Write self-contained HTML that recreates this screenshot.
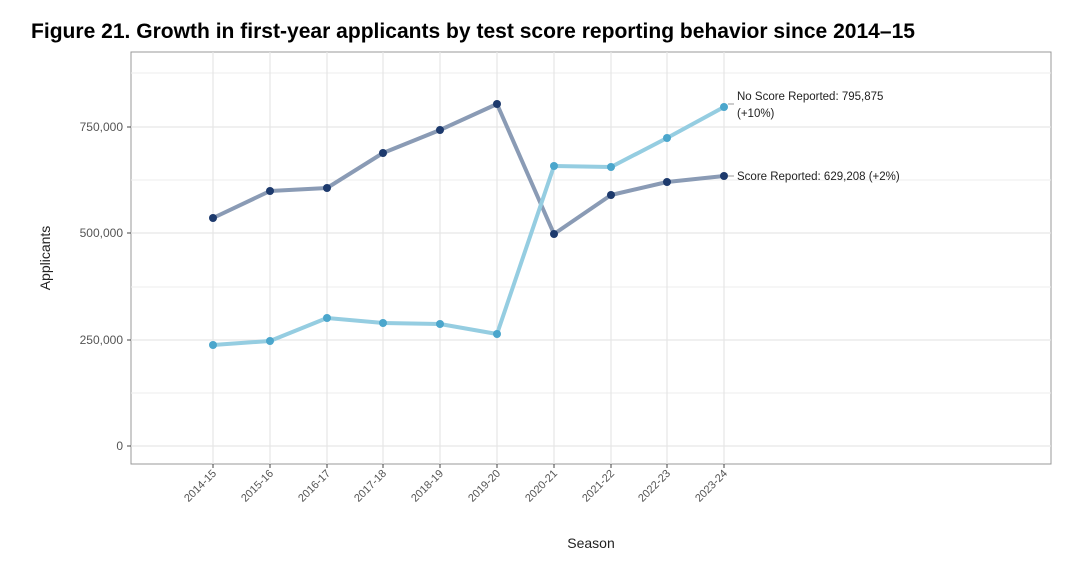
<!DOCTYPE html>
<html><head><meta charset="utf-8"><style>
body{margin:0;background:#fff;width:1080px;height:564px;overflow:hidden}
svg{display:block}
</style></head><body>
<svg width="1080" height="564" xmlns="http://www.w3.org/2000/svg" font-family="Liberation Sans, sans-serif">
<text x="31" y="38" font-family="Liberation Sans, sans-serif" font-weight="bold" font-size="21" textLength="884" lengthAdjust="spacingAndGlyphs" fill="#000">Figure 21. Growth in first-year applicants by test score reporting behavior since 2014–15</text>
<rect x="131" y="52" width="920" height="412" fill="#fff" stroke="#999" stroke-width="1"/>
<g stroke="#eeeeee" stroke-width="1">
<line x1="131" x2="1051" y1="73" y2="73"/><line x1="131" x2="1051" y1="180" y2="180"/><line x1="131" x2="1051" y1="287" y2="287"/><line x1="131" x2="1051" y1="393" y2="393"/>
</g>
<g stroke="#e6e6e6" stroke-width="1.2">
<line x1="131" x2="1051" y1="127" y2="127"/><line x1="131" x2="1051" y1="233" y2="233"/><line x1="131" x2="1051" y1="340" y2="340"/><line x1="131" x2="1051" y1="446" y2="446"/>
<line y1="52" y2="464" x1="213" x2="213"/><line y1="52" y2="464" x1="270" x2="270"/><line y1="52" y2="464" x1="327" x2="327"/><line y1="52" y2="464" x1="383" x2="383"/><line y1="52" y2="464" x1="440" x2="440"/><line y1="52" y2="464" x1="497" x2="497"/><line y1="52" y2="464" x1="554" x2="554"/><line y1="52" y2="464" x1="611" x2="611"/><line y1="52" y2="464" x1="667" x2="667"/><line y1="52" y2="464" x1="724" x2="724"/>
</g>
<g stroke="#444" stroke-width="1">
<line x1="127" x2="131" y1="127" y2="127"/><line x1="127" x2="131" y1="233" y2="233"/><line x1="127" x2="131" y1="340" y2="340"/><line x1="127" x2="131" y1="446" y2="446"/>
<line y1="464" y2="468" x1="213" x2="213"/><line y1="464" y2="468" x1="270" x2="270"/><line y1="464" y2="468" x1="327" x2="327"/><line y1="464" y2="468" x1="383" x2="383"/><line y1="464" y2="468" x1="440" x2="440"/><line y1="464" y2="468" x1="497" x2="497"/><line y1="464" y2="468" x1="554" x2="554"/><line y1="464" y2="468" x1="611" x2="611"/><line y1="464" y2="468" x1="667" x2="667"/><line y1="464" y2="468" x1="724" x2="724"/>
</g>
<g font-size="12" fill="#555" text-anchor="end">
<text x="123" y="131">750,000</text><text x="123" y="237">500,000</text><text x="123" y="344">250,000</text><text x="123" y="450">0</text>
</g>
<g font-size="11" fill="#555" text-anchor="end">
<text transform="translate(217,474) rotate(-45)">2014-15</text>
<text transform="translate(274,474) rotate(-45)">2015-16</text>
<text transform="translate(331,474) rotate(-45)">2016-17</text>
<text transform="translate(387,474) rotate(-45)">2017-18</text>
<text transform="translate(444,474) rotate(-45)">2018-19</text>
<text transform="translate(501,474) rotate(-45)">2019-20</text>
<text transform="translate(558,474) rotate(-45)">2020-21</text>
<text transform="translate(615,474) rotate(-45)">2021-22</text>
<text transform="translate(671,474) rotate(-45)">2022-23</text>
<text transform="translate(728,474) rotate(-45)">2023-24</text>
</g>
<text x="591" y="548" font-size="14" fill="#222" text-anchor="middle">Season</text>
<text transform="translate(50,258) rotate(-90)" font-size="14" fill="#222" text-anchor="middle">Applicants</text>
<polyline fill="none" stroke="#8a9bb5" stroke-width="4" stroke-linejoin="round" points="213,218 270,191 327,188 383,153 440,130 497,104 554,234 611,195 667,182 724,176"/>
<polyline fill="none" stroke="#95cde1" stroke-width="4" stroke-linejoin="round" points="213,345 270,341 327,318 383,323 440,324 497,334 554,166 611,167 667,138 724,107"/>
<g fill="#1d3a6d">
<circle cx="213" cy="218" r="4"/><circle cx="270" cy="191" r="4"/><circle cx="327" cy="188" r="4"/><circle cx="383" cy="153" r="4"/><circle cx="440" cy="130" r="4"/><circle cx="497" cy="104" r="4"/><circle cx="554" cy="234" r="4"/><circle cx="611" cy="195" r="4"/><circle cx="667" cy="182" r="4"/><circle cx="724" cy="176" r="4"/>
</g>
<g fill="#4ba6cc">
<circle cx="213" cy="345" r="4"/><circle cx="270" cy="341" r="4"/><circle cx="327" cy="318" r="4"/><circle cx="383" cy="323" r="4"/><circle cx="440" cy="324" r="4"/><circle cx="497" cy="334" r="4"/><circle cx="554" cy="166" r="4"/><circle cx="611" cy="167" r="4"/><circle cx="667" cy="138" r="4"/><circle cx="724" cy="107" r="4"/>
</g>
<line x1="728" y1="104" x2="734" y2="104" stroke="#999"/>
<line x1="728" y1="176" x2="734" y2="176" stroke="#999"/>
<g font-size="11.5" fill="#222">
<text x="737" y="100">No Score Reported: 795,875</text>
<text x="737" y="117">(+10%)</text>
<text x="737" y="180">Score Reported: 629,208 (+2%)</text>
</g>
</svg>
</body></html>
